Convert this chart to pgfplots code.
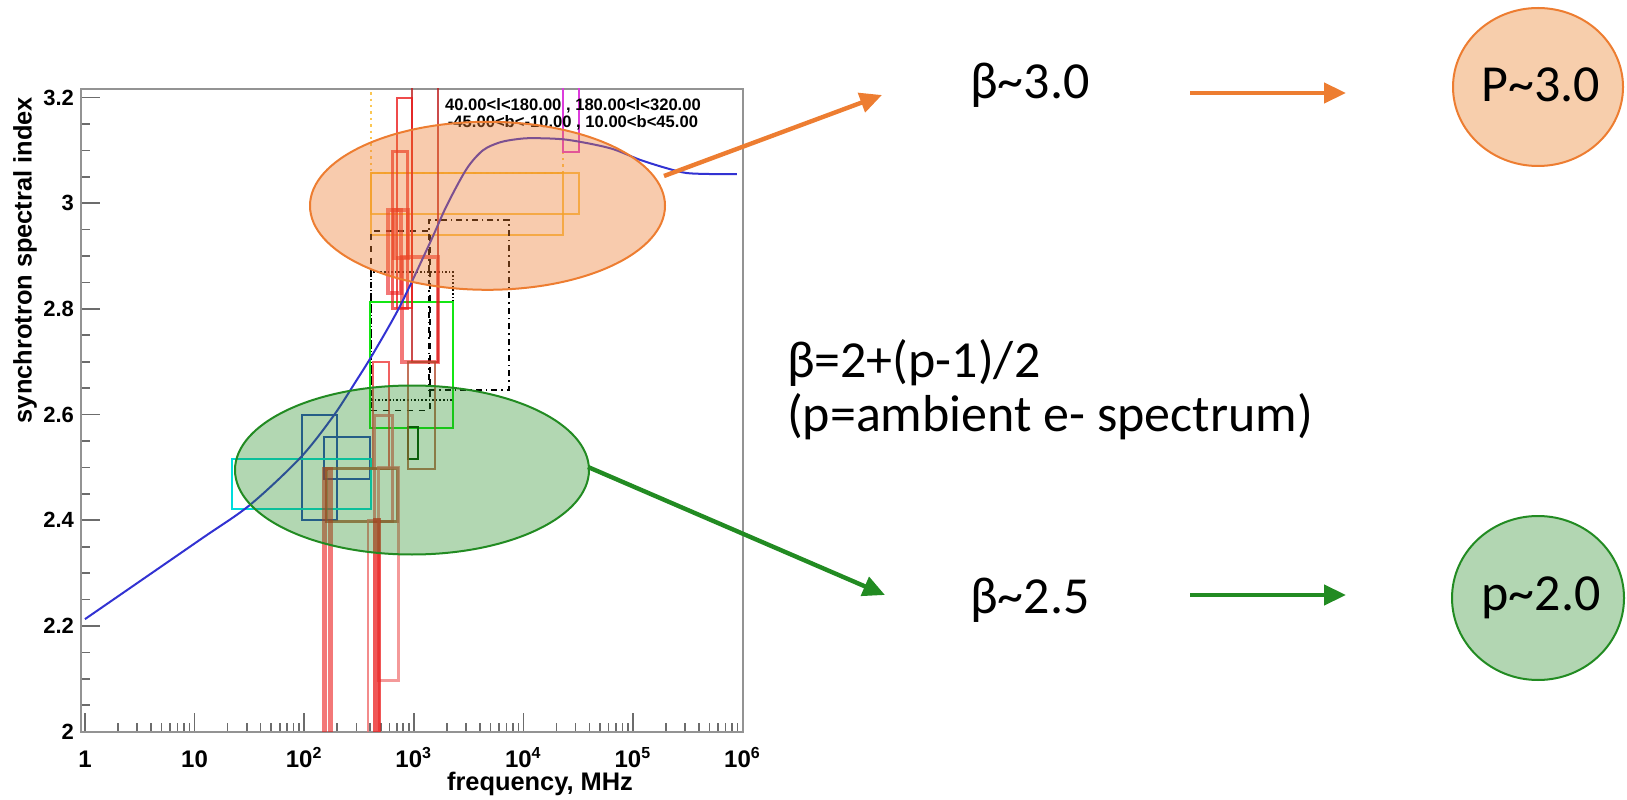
\documentclass[border=0pt]{standalone}
\usepackage{pgfplots}
\pgfplotsset{compat=1.18}
\usepackage{fontspec}
\setmainfont{Liberation Sans}
\newfontfamily\calibri{Carlito}
\usetikzlibrary{arrows.meta}

% colours of the survey boxes and of the model curve
\definecolor{boxorange}{RGB}{250,185,40}
\definecolor{boxmagenta}{RGB}{220,60,220}
\definecolor{boxred}{RGB}{235,30,30}
\definecolor{boxdarkred}{RGB}{190,30,30}
\definecolor{boxsalmon}{RGB}{240,110,110}
\definecolor{boxbrown}{RGB}{180,80,50}
\definecolor{boxblue}{RGB}{40,70,190}
\definecolor{boxcyan}{RGB}{0,220,220}
\definecolor{boxgreen}{RGB}{20,230,20}
\definecolor{boxdkgreen}{RGB}{0,70,0}
\definecolor{curveblue}{RGB}{50,50,210}
% annotation colours
\definecolor{noteorange}{RGB}{237,125,49}
\definecolor{notegreen}{RGB}{34,139,34}
\definecolor{notegreenfill}{RGB}{178,214,178}
\definecolor{noteorangefill}{RGB}{247,206,172}

% \rbox{style}{nu_min}{nu_max}{beta_min}{beta_max}
\newcommand\rbox[5]{\addplot[#1] coordinates {(#2,#4) (#3,#4) (#3,#5) (#2,#5)} --cycle;}

\begin{document}
\begin{tikzpicture}[x=0.5pt,y=0.5pt]
\useasboundingbox (0,0) rectangle (1627,799);
\begin{axis}[
  at={(40.5pt,33.65pt)}, anchor=south west,
  scale only axis, width=331pt, height=321.35pt,
  xmode=log, xmin=0.92, xmax=1.01e6, ymin=2, ymax=3.216,
  xtick={1,10,100,1000,10000,100000,1000000},
  xticklabels={1,10,10\textsuperscript{2},10\textsuperscript{3},10\textsuperscript{4},10\textsuperscript{5},10\textsuperscript{6}},
  minor xtick={2,3,4,5,6,7,8,9,20,30,40,50,60,70,80,90,200,300,400,500,600,700,800,900,2000,3000,4000,5000,6000,7000,8000,9000,20000,30000,40000,50000,60000,70000,80000,90000,200000,300000,400000,500000,600000,700000,800000,900000},
  ytick={2,2.2,2.4,2.6,2.8,3,3.2},
  yticklabels={2,2.2,2.4,2.6,2.8,3,3.2},
  minor y tick num=3,
  tick align=inside, xtick pos=bottom, ytick pos=left,
  major tick length=9.5pt, minor tick length=4.5pt,
  tick style={gray!85!black, line width=0.8pt},
  axis line style={draw=gray!85, line width=0.8pt},
  xticklabel style={font=\bfseries\fontsize{12}{12}\selectfont, anchor=base, yshift=-18pt},
  yticklabel style={font=\bfseries\fontsize{11}{11}\selectfont},
]
% orange and magenta surveys
\rbox{boxorange, line width=1pt, draw opacity=0.8}{407}{22960}{2.940}{3.057}
\rbox{boxorange, line width=1pt, draw opacity=0.8}{407}{32140}{2.979}{3.057}
\rbox{boxorange, line width=1.2pt, dotted, draw opacity=0.8}{407}{22960}{3.057}{3.40}
\rbox{boxmagenta, line width=1pt}{22960}{32140}{3.097}{3.40}
% black dashed / dotted surveys
\rbox{black, line width=0.8pt, dashed}{407}{1406}{2.608}{2.947}
\rbox{black, line width=0.8pt, densely dotted}{407}{2279}{2.628}{2.870}
\rbox{black, line width=0.8pt, dash dot}{1377}{7390}{2.647}{2.968}
% green surveys
\rbox{boxgreen, line width=1pt}{398}{2279}{2.575}{2.813}
\rbox{boxdkgreen, line width=1pt}{879}{1092}{2.516}{2.577}
% blue and cyan surveys
\rbox{boxblue, line width=1pt}{95.5}{199}{2.401}{2.599}
\rbox{boxblue, line width=1pt}{152}{398}{2.478}{2.558}
\rbox{boxcyan, line width=1pt}{21.9}{407}{2.421}{2.516}
% red family of surveys
\rbox{boxdarkred, line width=1pt, draw opacity=0.8}{963}{1663}{2.700}{3.40}
\rbox{boxred, line width=2.2pt, draw opacity=0.6}{780}{1663}{2.700}{2.898}
\rbox{boxred, line width=1pt, draw opacity=0.8}{703}{963}{2.802}{3.199}
\rbox{boxred, line width=1.5pt, draw opacity=0.7}{646}{885}{2.800}{3.097}
\rbox{boxred, line width=2.2pt, draw opacity=0.6}{582}{764}{2.830}{2.987}
\rbox{boxred, line width=2.2pt, draw opacity=0.6}{660}{885}{2.896}{2.987}
\rbox{boxred, line width=1pt, draw opacity=0.7}{425}{594}{2.497}{2.700}
\rbox{boxsalmon, line width=1.5pt, draw opacity=0.8}{443}{646}{2.397}{2.599}
\rbox{boxbrown, line width=1.5pt, draw opacity=0.8}{161}{718}{2.397}{2.498}
\rbox{boxbrown, line width=1.2pt, draw opacity=0.8}{885}{1561}{2.497}{2.700}
\rbox{boxsalmon, line width=1.5pt, draw opacity=0.7}{481}{733}{2.096}{2.499}
\rbox{boxred, line width=2.4pt, draw opacity=0.6}{153}{175}{1.50}{2.497}
\rbox{boxsalmon, line width=1.2pt, draw opacity=0.8}{383}{480}{1.50}{2.400}
\rbox{boxred, line width=2.4pt, draw opacity=0.75}{445}{480}{1.50}{2.400}
% model of the synchrotron spectral index
\addplot[curveblue, line width=1pt, smooth] coordinates {
  (1,2.213) (11,2.362) (32,2.429) (92,2.518) (183,2.596) (301,2.665)
  (425,2.715) (748,2.805) (1406,2.925) (1995,2.995)
  (3040,3.065) (4280,3.100) (6110,3.115) (8690,3.121) (12240,3.123)
  (25000,3.120) (61700,3.104) (116000,3.082) (204000,3.066)
  (310000,3.057) (550000,3.055) (890000,3.055)};
\end{axis}

% axis titles and region legend
\node[rotate=90, anchor=east, font=\bfseries\fontsize{12.7}{13}\selectfont] at (25,709) {synchrotron spectral index};
\node[anchor=base, font=\bfseries\fontsize{12.7}{13}\selectfont] at (540,9) {frequency, MHz};
\node[anchor=north, align=center, inner sep=0pt, font=\bfseries\fontsize{8.3}{8.6}\selectfont] at (573,701)
  {40.00<l<180.00 , 180.00<l<320.00\\-45.00<b<-10.00 , 10.00<b<45.00};

% highlighted regions
\draw[noteorange, line width=1pt, fill=noteorange, fill opacity=0.4] (487.5,593.2) ellipse [x radius=88.75pt, y radius=42pt];
\draw[notegreen, line width=1pt, fill=notegreen, fill opacity=0.35] (412,329) ellipse [x radius=88.5pt, y radius=42.25pt];

% arrows
\draw[noteorange, line width=2.2pt, -{Triangle[length=11pt,width=10pt]}] (664,623) -- (882,704);
\draw[noteorange, line width=2.2pt, -{Triangle[length=11pt,width=10pt]}] (1190,706) -- (1346,706);
\draw[notegreen, line width=2.2pt, -{Triangle[length=11pt,width=10pt]}] (588,332) -- (885,204);
\draw[notegreen, line width=2.2pt, -{Triangle[length=11pt,width=10pt]}] (1190,204) -- (1346,204);

% circles with the electron index
\draw[noteorange, line width=1pt, fill=noteorangefill] (1538,712) ellipse [x radius=42.5pt, y radius=39.5pt];
\draw[notegreen, line width=1pt, fill=notegreenfill] (1538,201) ellipse [x radius=43pt, y radius=41pt];

% annotation text
\begin{scope}[every node/.style={font=\calibri\fontsize{26}{30}\selectfont}]
\node at (1030,714) {β\textasciitilde 3.0};
\node at (1541,714) {P\textasciitilde 3.0};
\node[anchor=west] at (780,436) {β=2+(p-1)/2};
\node[anchor=west] at (780,382) {(p=ambient e- spectrum)};
\node at (1030,199) {β\textasciitilde 2.5};
\node at (1541,201) {p\textasciitilde 2.0};
\end{scope}
\end{tikzpicture}
\end{document}
